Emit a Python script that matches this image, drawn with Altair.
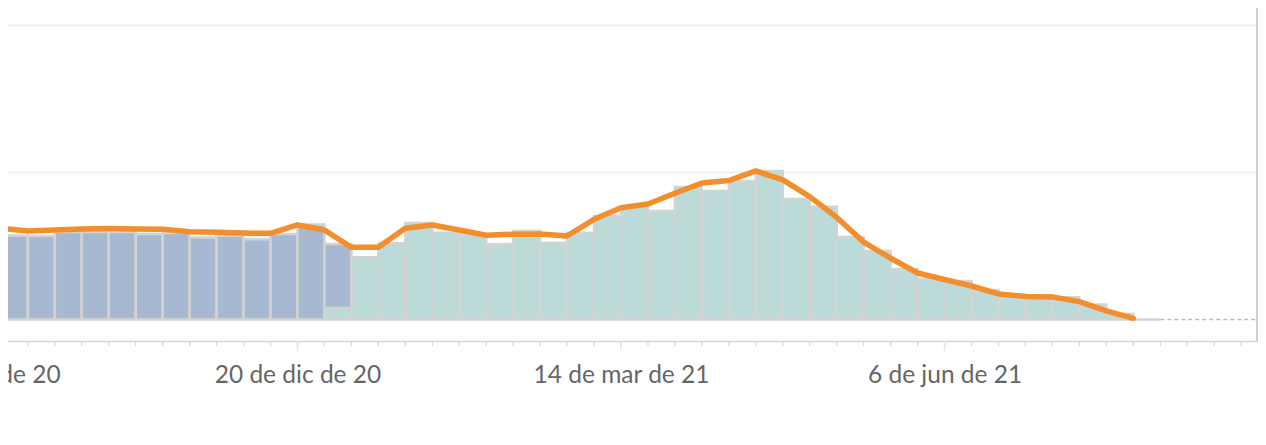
import altair as alt
import pandas as pd

# ---- data -------------------------------------------------------------
week_start = [d.strftime("%Y-%m-%d") for d in pd.date_range("2020-10-04", periods=43, freq="7D")]

blue_values = [56.9, 56.6, 59.3, 59.3, 59.3, 58.0, 58.6, 55.6, 56.8, 54.4, 58.0, 64.4, 43.4] + [None] * 30
teal_values = [None] * 12 + [7.8, 42.2, 51.7, 65.4, 58.8, 58.0, 51.0, 60.0, 52.1, 58.8,
                             70.2, 76.3, 73.6, 89.8, 87.1, 93.9, 100.7, 81.7, 76.5, 55.9,
                             46.4, 34.2, 27.5, 26.1, 20.0, 16.6, 15.9, 15.1, 10.2, 3.7] + [None]
grey_values = [None] * 42 + [0]

line_values = [61.8, 60.0, 60.7, 61.4, 61.6, 61.4, 61.2, 59.5, 59.1, 58.6, 58.4,
               64.1, 60.7, 48.9, 48.9, 61.8, 64.1, 60.7, 57.1, 57.8, 58.0, 56.6,
               67.9, 75.8, 78.3, 85.6, 92.5, 94.2, 100.7, 94.6, 83.3, 69.2, 52.5,
               41.5, 31.5, 27.1, 22.7, 17.3, 15.6, 15.3, 12.1, 5.8, 0.8]

tick_dates = [d.strftime("%Y-%m-%d") for d in pd.date_range("2020-09-13", "2021-08-22", freq="7D")]
major_dates = ["2020-09-27", "2020-12-20", "2021-03-14", "2021-06-06"]
major_labels = ["27 de sep de 20", "20 de dic de 20", "14 de mar de 21", "6 de jun de 21"]

series_names = ["azul", "verde", "gris"]
series_colors = ["#a7b9d1", "#bcdbd8", "#d3d3d3"]

# ---- tables (stack computed from the lists) ---------------------------
rows = []
for i, s in enumerate(week_start):
    end = (pd.Timestamp(s) + pd.Timedelta(days=7)).strftime("%Y-%m-%d")
    base = 0.0
    for name, vals in zip(["verde", "azul", "gris"], [teal_values, blue_values, grey_values]):
        v = vals[i]
        if v is not None:
            rows.append({"start": s, "end": end, "series": name, "y0": base, "y1": base + v})
            base += v
bars_df = pd.DataFrame(rows)
line_df = pd.DataFrame({"start": week_start, "value": line_values})
dash_df = pd.DataFrame({"d0": ["2021-08-01"], "d1": ["2021-08-27T10:00:00"], "v": [0]})
major_df = pd.DataFrame({"date": major_dates})
tick_df = pd.DataFrame({"date": tick_dates})


def ms(d):
    return int(pd.Timestamp(d).timestamp() * 1000)


label_expr = ""
for d, lab in zip(major_dates, major_labels):
    label_expr += f"utcFormat(datum.value, '%Y-%m-%d') == '{d}' ? '{lab}' : "
label_expr += "''"

W, H = 1342, 333

xscale = alt.Scale(type="utc", domain=[alt.DateTime(year=2020, month=9, date=13, utc=True),
                                       alt.DateTime(year=2021, month=8, date=27, hours=10, utc=True)])
yscale = alt.Scale(domain=[-14.6, 211.2], nice=False, zero=False)

xaxis = alt.Axis(values=[ms(d) for d in major_dates], labelExpr=label_expr, title=None,
                 domainColor="#d4d4d4", domainWidth=1.5, ticks=False,
                 labelFont="Lato", labelFontSize=24.5, labelColor="#666666",
                 labelPadding=22, labelOverlap=False, labelFlush=False, labelBound=False,
                 grid=False)
yaxis = alt.Axis(values=[100, 200], grid=True, gridColor="#efefef", gridWidth=2,
                 labels=False, ticks=False, domain=False, title=None)

bars = alt.Chart(bars_df).mark_rect(stroke="#d3d3d3", strokeWidth=2.5, clip=True).encode(
    x=alt.X("start:T", scale=xscale, axis=xaxis),
    x2="end:T",
    y=alt.Y("y1:Q", scale=yscale, axis=yaxis),
    y2="y0:Q",
    color=alt.Color("series:N", scale=alt.Scale(domain=series_names, range=series_colors), legend=None),
)

dash = alt.Chart(dash_df).mark_rule(color="#bdbdbd", strokeDash=[4, 3], strokeWidth=1.5, clip=True).encode(
    x="d0:T", x2="d1:T", y="v:Q"
)

line = alt.Chart(line_df).mark_line(color="#f28e2b", strokeWidth=5.5, strokeCap="round",
                                    strokeJoin="round", clip=True).encode(
    x="start:T", y="value:Q"
)

minor = alt.Chart(tick_df).mark_rule(color="#d6d6d6", strokeWidth=1.2).encode(
    x="date:T", y=alt.value(H), y2=alt.value(H + 5)
)

major = alt.Chart(major_df).mark_rule(color="#e6e6e6", strokeWidth=1.5).encode(
    x="date:T", y=alt.value(H), y2=alt.value(H + 10)
)

border = alt.Chart(major_df).mark_rule(color="#d0d0d0", strokeWidth=1.5).encode(
    x=alt.value(W - 5), y=alt.value(0), y2=alt.value(H)
)

chart = alt.layer(bars, dash, line, minor, major, border).properties(
    width=W, height=H, autosize="none",
    padding={"left": -88, "top": 0, "right": -4, "bottom": 60},
).configure_view(strokeWidth=0)

chart.save("out.html", embed_options={"renderer": "svg", "actions": False})
